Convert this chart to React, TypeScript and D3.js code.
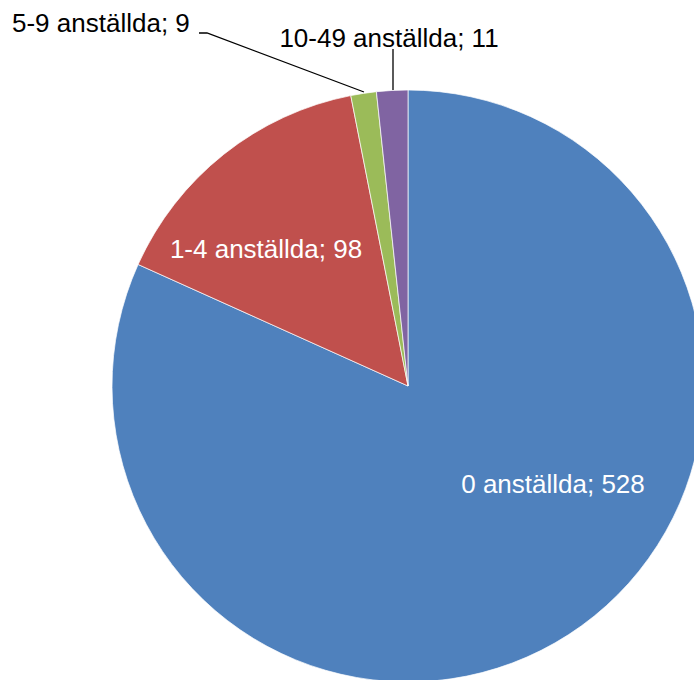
import * as d3 from "d3";
import { useEffect, useRef } from "react";

const categories = ["0 anställda", "1-4 anställda", "5-9 anställda", "10-49 anställda"];
const values = [528, 98, 9, 11];
const colors = ["#4F81BD", "#C0504D", "#9BBB59", "#8064A2"];

const WIDTH = 694;
const HEIGHT = 680;
const CX = 408;
const CY = 386;
const R = 296;

// label placement: [x, y, anchor, fill], plus leader endpoints for outside labels
const LABELS: { x: number; y: number; anchor: string; fill: string; leader?: [number, number][] }[] = [
  { x: 553, y: 493, anchor: "middle", fill: "#ffffff" },
  { x: 266, y: 258, anchor: "middle", fill: "#ffffff" },
  { x: 12, y: 32, anchor: "start", fill: "#000000", leader: [[199, 33], [207, 33], [364, 92]] },
  { x: 389, y: 47, anchor: "middle", fill: "#000000", leader: [[393, 49], [393, 90]] },
];

export default function App() {
  const svgRef = useRef<SVGSVGElement | null>(null);

  useEffect(() => {
    if (!svgRef.current) return;
    const svg = d3.select(svgRef.current);
    svg.selectAll("*").remove();

    const data = categories.map((c, i) => ({ name: c, value: values[i], color: colors[i] }));
    const pie = d3.pie<any>().sort(null).value((d) => d.value);
    const arc = d3.arc<any>().innerRadius(0).outerRadius(R);

    const g = svg.append("g").attr("transform", `translate(${CX},${CY})`);
    g.selectAll("path")
      .data(pie(data))
      .join("path")
      .attr("d", arc)
      .attr("fill", (d) => d.data.color)
      .attr("stroke", "#ffffff")
      .attr("stroke-width", 0.7);

    // leader lines
    LABELS.forEach((l) => {
      if (!l.leader) return;
      svg
        .append("path")
        .attr("d", d3.line()(l.leader))
        .attr("fill", "none")
        .attr("stroke", "#000")
        .attr("stroke-width", 1.3);
    });

    svg
      .append("g")
      .selectAll("text")
      .data(data)
      .join("text")
      .attr("x", (_, i) => LABELS[i].x)
      .attr("y", (_, i) => LABELS[i].y)
      .attr("text-anchor", (_, i) => LABELS[i].anchor)
      .attr("fill", (_, i) => LABELS[i].fill)
      .style("font-family", "'Liberation Sans', Arial, sans-serif")
      .style("font-size", "26px")
      .text((d) => `${d.name}; ${d.value}`);
  }, []);

  return (
    <svg
      ref={svgRef}
      width={WIDTH}
      height={HEIGHT}
      style={{ position: "absolute", left: 0, top: 0, background: "#fff" }}
    />
  );
}
